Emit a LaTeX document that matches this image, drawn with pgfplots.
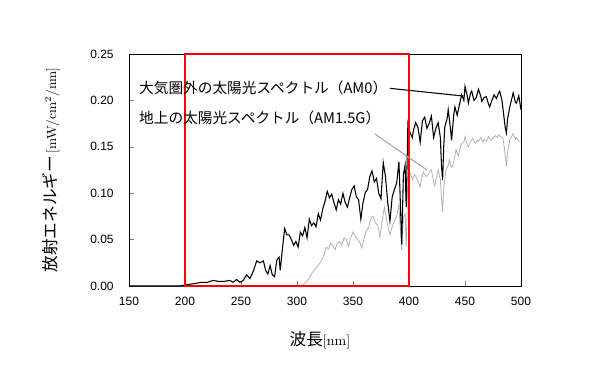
\documentclass[border=0pt]{standalone}
\usepackage{pgfplots}
\pgfplotsset{compat=1.18}
\usepackage{fontspec}
\newfontfamily\cjk{Noto Sans CJK JP}
\newfontfamily\numfont{Liberation Sans}
\begin{document}
\begin{tikzpicture}
\path[use as bounding box] (0,0) rectangle (442.5pt,285pt);
\begin{axis}[
  at={(96.75pt,70.5pt)}, anchor=south west,
  scale only axis, width=294pt, height=174pt,
  xmin=150, xmax=500, ymin=0, ymax=0.25,
  xtick={150,200,...,500},
  ytick={0,0.05,...,0.25},
  yticklabel style={/pgf/number format/fixed, /pgf/number format/fixed zerofill, /pgf/number format/precision=2, xshift=-8pt},
  /pgf/number format/assume math mode=true,
  tick label style={font=\numfont\fontsize{9}{10}\selectfont},
  xtick pos=left, ytick pos=left, tick align=inside,
  major tick length=4pt,
  scaled y ticks=false,
  xticklabel style={yshift=-5pt},
  axis line style={black, line width=0.7pt},
  ylabel={{\cjk\fontsize{12.5}{14}\selectfont 放射エネルギー}\,{\fontsize{10}{11}\selectfont[mW/cm$^2$/nm]}},
  ylabel style={at={(axis description cs:-0.2,0.5)}, anchor=center, rotate=0},
  xlabel={{\cjk\fontsize{12.5}{14}\selectfont 波長}{\fontsize{10.5}{12}\selectfont[nm]}},
  xlabel style={at={(axis description cs:0.487,-0.233)}, anchor=center},
  clip=false,
]
\addplot[color=black!30, line width=0.6pt] coordinates {
(150,0) (300,0) (303,0) (305,0.001) (308,0.004) (311,0.009) (314,0.015) (317,0.019) (320,0.024) (322,0.028) (324,0.033) (326,0.042) (328,0.040) (330,0.046) (332,0.043) (334,0.039) (336,0.046) (338,0.048) (340,0.044) (342,0.052) (344,0.050) (346,0.043) (348,0.052) (350,0.058) (352,0.053) (354,0.051) (356,0.047) (358,0.041) (360,0.052) (362,0.060) (364,0.063) (366,0.073) (368,0.075) (370,0.068) (372,0.066) (374,0.053) (376,0.070) (378,0.085) (380,0.071) (382,0.060) (383,0.055) (385,0.064) (387,0.070) (389,0.075) (391,0.088) (392,0.065) (393.5,0.039) (395,0.074) (396.5,0.078) (397.5,0.042) (399,0.118) (401,0.122) (403,0.115) (405,0.120) (407,0.116) (409,0.110) (410,0.107) (412,0.120) (413,0.123) (415,0.118) (417,0.120) (419,0.124) (420,0.125) (422,0.112) (423,0.108) (425,0.120) (426,0.125) (428,0.115) (429,0.095) (430,0.080) (431,0.105) (433,0.125) (435,0.130) (436,0.136) (438,0.128) (439,0.129) (441,0.140) (442,0.147) (444,0.140) (446,0.150) (447,0.153) (449,0.155) (450,0.161) (452,0.152) (453,0.150) (455,0.156) (457,0.159) (459,0.154) (461,0.157) (462,0.156) (464,0.160) (466,0.155) (467,0.158) (469,0.156) (471,0.161) (473,0.157) (475,0.159) (477,0.162) (479,0.160) (480,0.163) (482,0.161) (484,0.159) (486,0.140) (487,0.129) (488,0.145) (490,0.158) (492,0.162) (493,0.164) (495,0.158) (496,0.160) (498,0.156) (500,0.156)
};
\addplot[color=black, line width=0.8pt] coordinates {
(150,0) (195,0) (200,0.001) (205,0.002) (210,0.003) (215,0.004) (220,0.004) (225,0.006) (230,0.005) (235,0.005) (240,0.006) (243,0.004) (246,0.007) (249,0.004) (252,0.006) (255,0.012) (258,0.008) (261,0.016) (264,0.027) (267,0.025) (270,0.027) (272,0.017) (274,0.013) (276,0.022) (278,0.012) (280,0.010) (282,0.028) (284,0.031) (285,0.017) (287,0.040) (289,0.062) (291,0.055) (293,0.055) (295,0.050) (297,0.044) (299,0.048) (301,0.042) (303,0.058) (305,0.054) (307,0.063) (309,0.052) (311,0.072) (313,0.065) (315,0.068) (317,0.064) (319,0.078) (321,0.071) (323,0.083) (325,0.091) (327,0.102) (329,0.095) (331,0.099) (333,0.090) (335,0.082) (337,0.093) (339,0.088) (341,0.100) (343,0.090) (345,0.085) (347,0.095) (349,0.104) (351,0.108) (353,0.096) (355,0.093) (357,0.072) (359,0.090) (361,0.101) (363,0.104) (365,0.118) (367,0.124) (369,0.112) (371,0.116) (373,0.100) (375,0.094) (377,0.133) (379,0.118) (381,0.090) (383,0.070) (385,0.096) (387,0.104) (389,0.111) (391,0.134) (392,0.100) (393.5,0.045) (395,0.120) (396.5,0.130) (397.5,0.085) (399,0.175) (401,0.165) (403,0.160) (404,0.168) (406,0.176) (408,0.171) (410,0.155) (412,0.178) (414,0.182) (416,0.170) (418,0.175) (420,0.183) (422,0.160) (424,0.170) (426,0.176) (428,0.160) (429,0.130) (430,0.114) (431,0.150) (432,0.172) (434,0.180) (435,0.190) (437,0.170) (438,0.157) (440,0.185) (441,0.193) (443,0.184) (445,0.195) (447,0.206) (449,0.200) (450,0.215) (452,0.205) (453,0.197) (455,0.208) (456,0.210) (458,0.200) (460,0.203) (462,0.212) (464,0.205) (465,0.199) (467,0.203) (469,0.204) (471,0.196) (472,0.193) (474,0.200) (476,0.206) (478,0.202) (480,0.208) (481,0.210) (483,0.200) (484,0.190) (486,0.170) (487,0.165) (488,0.180) (490,0.193) (492,0.203) (493,0.208) (495,0.198) (496,0.197) (498,0.205) (500,0.190)
};
\draw[red, line width=1.5pt] (axis cs:200,0) rectangle (axis cs:400,0.25);
\draw[black, line width=0.8pt] (axis cs:383,0.213) -- (axis cs:448.5,0.2047);
\draw[black!35, line width=0.8pt] (axis cs:369.6,0.1638) -- (axis cs:416,0.125);
\node[anchor=west, inner sep=0pt, font=\cjk\fontsize{11}{12}\selectfont] at (axis cs:158.9,0.2134) {大気圏外の太陽光スペクトル（AM0）};
\node[anchor=west, inner sep=0pt, font=\cjk\fontsize{11}{12}\selectfont] at (axis cs:158.9,0.181) {地上の太陽光スペクトル（AM1.5G）};
\end{axis}
\end{tikzpicture}
\end{document}
